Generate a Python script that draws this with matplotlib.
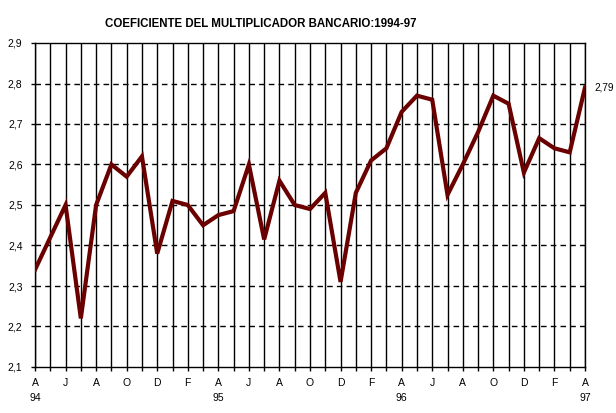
import matplotlib
matplotlib.use("Agg")
import matplotlib.pyplot as plt
import numpy as np

plt.rcParams['font.family'] = ['Liberation Sans', 'DejaVu Sans']

title = "COEFICIENTE DEL MULTIPLICADOR BANCARIO:1994-97"
values = [2.34, 2.42, 2.50, 2.22, 2.50, 2.60, 2.57, 2.62, 2.38,
          2.51, 2.50, 2.45, 2.475, 2.485, 2.60, 2.415, 2.56, 2.50, 2.49, 2.53, 2.31,
          2.53, 2.61, 2.64, 2.73, 2.77, 2.76, 2.525, 2.60, 2.68, 2.77, 2.75, 2.58,
          2.665, 2.64, 2.63, 2.79]
month_labels = ["A", "J", "A", "O", "D", "F", "A", "J", "A", "O", "D", "F",
                "A", "J", "A", "O", "D", "F", "A"]
year_labels = {0: "94", 12: "95", 24: "96", 36: "97"}
y_ticks = [2.1, 2.2, 2.3, 2.4, 2.5, 2.6, 2.7, 2.8, 2.9]
y_tick_labels = ["2,1", "2,2", "2,3", "2,4", "2,5", "2,6", "2,7", "2,8", "2,9"]
last_label = "2,79"

W, H = 616, 413
fig = plt.figure(figsize=(W / 100, H / 100), dpi=100)
left, right, top, bottom = 35, 585, 43, 367
ax = fig.add_axes([left / W, (H - bottom) / H, (right - left) / W, (bottom - top) / H])

x = np.arange(len(values))
ax.set_xlim(0, len(values) - 1)
ax.set_ylim(2.1, 2.9)

# vertical solid grid at every month
for xi in x:
    ax.axvline(xi, color='black', lw=1.0, zorder=1)
# horizontal dashed grid
for yv in y_ticks[1:-1]:
    ax.axhline(yv, color='black', lw=1.0, ls=(0, (4, 3)), zorder=1)

ax.plot(x, values, color='#6b0000', lw=3.0, zorder=3, solid_joinstyle='miter')

for s in ax.spines.values():
    s.set_color('black')
    s.set_linewidth(1.0)

ax.set_yticks(y_ticks)
ax.set_yticklabels(y_tick_labels, fontsize=7.5)
ax.tick_params(axis='y', length=3, width=1, pad=6)

ax.set_xticks(x)
ax.set_xticklabels([])
ax.tick_params(axis='x', length=3, width=1)

for i, lab in enumerate(month_labels):
    ax.text(i * 2, -0.05, lab, transform=ax.get_xaxis_transform(),
            ha='center', va='center', fontsize=7.5)
for i, lab in year_labels.items():
    ax.text(i, -0.095, lab, transform=ax.get_xaxis_transform(),
            ha='center', va='center', fontsize=7.5)

ax.annotate(last_label, xy=(x[-1], values[-1]), xytext=(6.5, 0),
            textcoords='offset points', ha='left', va='center',
            fontsize=7.2, annotation_clip=False)

fig.text(261 / W, 1 - 24 / H, title, ha='center', va='center',
         fontsize=8.3, fontweight='bold')

fig.savefig("out.png", dpi=100)
